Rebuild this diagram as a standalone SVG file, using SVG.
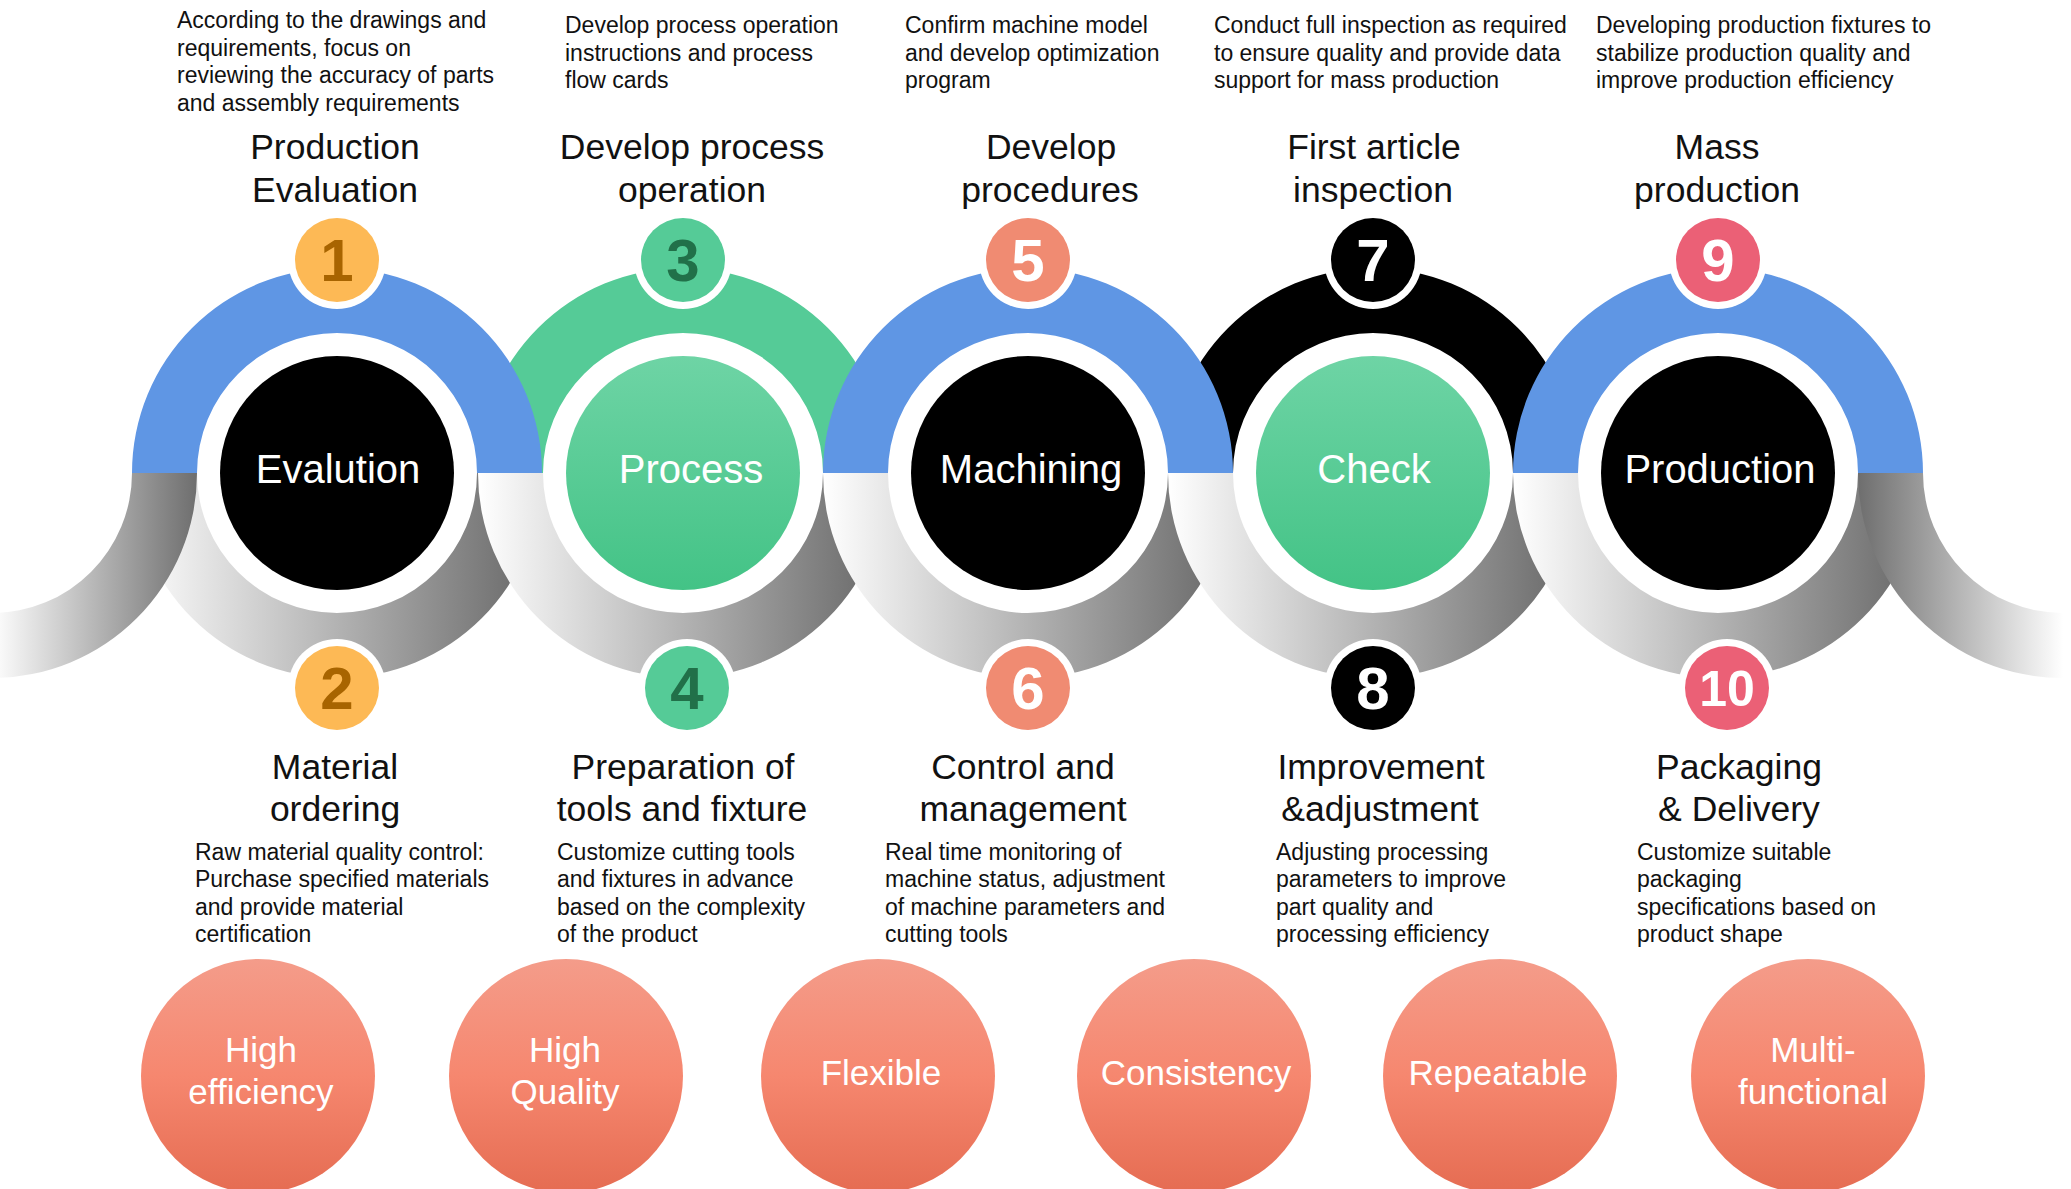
<svg xmlns="http://www.w3.org/2000/svg" width="2071" height="1189" viewBox="0 0 2071 1189">
<defs>
<linearGradient id="gGray" x1="0" y1="0" x2="1" y2="0"><stop offset="0" stop-color="#ffffff"/><stop offset="1" stop-color="#666666"/></linearGradient>
<linearGradient id="gGhostL" x1="0" y1="0" x2="1" y2="0"><stop offset="0" stop-color="#ffffff"/><stop offset="1" stop-color="#6e6e6e"/></linearGradient>
<linearGradient id="gGhostR" x1="0" y1="0" x2="1" y2="0"><stop offset="0" stop-color="#6e6e6e"/><stop offset="1" stop-color="#ffffff"/></linearGradient>
<linearGradient id="gGreen" x1="0" y1="0" x2="0" y2="1"><stop offset="0" stop-color="#6ED4A5"/><stop offset="1" stop-color="#43C386"/></linearGradient>
<linearGradient id="gSalmon" x1="0" y1="0" x2="0" y2="1"><stop offset="0" stop-color="#F49C8A"/><stop offset="0.5" stop-color="#F6876F"/><stop offset="1" stop-color="#E56C52"/></linearGradient>
<style>
text{font-family:'Liberation Sans',Arial,sans-serif;}
.desc{font-size:23px;fill:#111;}
.title{font-size:35.5px;fill:#111;text-anchor:middle;}
.lab{font-size:40px;fill:#fff;text-anchor:middle;}
.num{font-size:60px;font-weight:bold;text-anchor:middle;}
.feat{font-size:35px;fill:#fff;text-anchor:middle;}
.low{fill:url(#gGray);}
.blue{fill:#5F96E4;}
.green{fill:#55CB97;}
.blk{fill:#000;}
.wh{fill:#fff;}
</style>
</defs>
<rect width="2071" height="1189" fill="#fff"/>

<g id="connectors">
<!-- lower gray half rings, later on top -->
<path class="low" d="M132,473 A205,205 0 0 0 542,473 L477,473 A140,140 0 0 1 197,473 Z"/>
<path class="low" d="M478,473 A205,205 0 0 0 888,473 L823,473 A140,140 0 0 1 543,473 Z"/>
<path class="low" d="M823,473 A205,205 0 0 0 1233,473 L1168,473 A140,140 0 0 1 888,473 Z"/>
<path class="low" d="M1168,473 A205,205 0 0 0 1578,473 L1513,473 A140,140 0 0 1 1233,473 Z"/>
<path class="low" d="M1513,473 A205,205 0 0 0 1923,473 L1858,473 A140,140 0 0 1 1578,473 Z"/>
<path fill="url(#gGhostL)" d="M197,473 A205,205 0 0 1 -8,678 L-8,613 A140,140 0 0 0 132,473 Z"/>
<path fill="url(#gGhostR)" d="M1858,473 A205,205 0 0 0 2063,678 L2063,613 A140,140 0 0 1 1923,473 Z"/>
<!-- upper colored half rings -->
<path class="green" d="M478,473 A205,205 0 0 1 888,473 L823,473 A140,140 0 0 0 543,473 Z"/>
<path class="blk" d="M1168,473 A205,205 0 0 1 1578,473 L1513,473 A140,140 0 0 0 1233,473 Z"/>
<path class="blue" d="M132,473 A205,205 0 0 1 542,473 L477,473 A140,140 0 0 0 197,473 Z"/>
<path class="blue" d="M823,473 A205,205 0 0 1 1233,473 L1168,473 A140,140 0 0 0 888,473 Z"/>
<path class="blue" d="M1513,473 A205,205 0 0 1 1923,473 L1858,473 A140,140 0 0 0 1578,473 Z"/>
</g>

<g id="node-evaluation">
<circle cx="337" cy="473" r="117" fill="#000"/>
<text class="lab" x="338" y="483">Evalution</text>
<circle cx="337" cy="260" r="49" class="wh"/><circle cx="337" cy="260" r="42" fill="#FDB955"/>
<text class="num" x="337" y="281" fill="#A86400">1</text>
<circle cx="337" cy="688" r="49" class="wh"/><circle cx="337" cy="688" r="42" fill="#FDB955"/>
<text class="num" x="337" y="709" fill="#A86400">2</text>
<text class="title" x="335" y="159">Production</text><text class="title" x="335" y="202">Evaluation</text>
<text class="title" x="335" y="779">Material</text><text class="title" x="335" y="821">ordering</text>
<text class="desc" x="177" y="28">According to the drawings and</text>
<text class="desc" x="177" y="55.5">requirements, focus on</text>
<text class="desc" x="177" y="83">reviewing the accuracy of parts</text>
<text class="desc" x="177" y="110.5">and assembly requirements</text>
<text class="desc" x="195" y="860">Raw material quality control:</text>
<text class="desc" x="195" y="887">Purchase specified materials</text>
<text class="desc" x="195" y="914.5">and provide material</text>
<text class="desc" x="195" y="942">certification</text>
</g>

<g id="node-process">
<circle cx="683" cy="473" r="117" fill="url(#gGreen)"/>
<text class="lab" x="691" y="483">Process</text>
<circle cx="683" cy="260" r="49" class="wh"/><circle cx="683" cy="260" r="42" fill="#55CB97"/>
<text class="num" x="683" y="281" fill="#217049">3</text>
<circle cx="687" cy="688" r="49" class="wh"/><circle cx="687" cy="688" r="42" fill="#55CB97"/>
<text class="num" x="687" y="709" fill="#217049">4</text>
<text class="title" x="692" y="159">Develop process</text><text class="title" x="692" y="202">operation</text>
<text class="title" x="683" y="779">Preparation of</text><text class="title" x="682" y="821">tools and fixture</text>
<text class="desc" x="565" y="33">Develop process operation</text>
<text class="desc" x="565" y="60.5">instructions and process</text>
<text class="desc" x="565" y="88">flow cards</text>
<text class="desc" x="557" y="860">Customize cutting tools</text>
<text class="desc" x="557" y="887">and fixtures in advance</text>
<text class="desc" x="557" y="914.5">based on the complexity</text>
<text class="desc" x="557" y="942">of the product</text>
</g>

<g id="node-machining">
<circle cx="1028" cy="473" r="117" fill="#000"/>
<text class="lab" x="1031" y="483">Machining</text>
<circle cx="1028" cy="260" r="49" class="wh"/><circle cx="1028" cy="260" r="42" fill="#F08B72"/>
<text class="num" x="1028" y="281" fill="#fff">5</text>
<circle cx="1028" cy="688" r="49" class="wh"/><circle cx="1028" cy="688" r="42" fill="#F08B72"/>
<text class="num" x="1028" y="709" fill="#fff">6</text>
<text class="title" x="1051" y="159">Develop</text><text class="title" x="1050" y="202">procedures</text>
<text class="title" x="1023" y="779">Control and</text><text class="title" x="1023" y="821">management</text>
<text class="desc" x="905" y="33">Confirm machine model</text>
<text class="desc" x="905" y="60.5">and develop optimization</text>
<text class="desc" x="905" y="88">program</text>
<text class="desc" x="885" y="860">Real time monitoring of</text>
<text class="desc" x="885" y="887">machine status, adjustment</text>
<text class="desc" x="885" y="914.5">of machine parameters and</text>
<text class="desc" x="885" y="942">cutting tools</text>
</g>

<g id="node-check">
<circle cx="1373" cy="473" r="117" fill="url(#gGreen)"/>
<text class="lab" x="1374" y="483">Check</text>
<circle cx="1373" cy="260" r="49" class="wh"/><circle cx="1373" cy="260" r="42" fill="#000"/>
<text class="num" x="1373" y="281" fill="#fff">7</text>
<circle cx="1373" cy="688" r="49" class="wh"/><circle cx="1373" cy="688" r="42" fill="#000"/>
<text class="num" x="1373" y="709" fill="#fff">8</text>
<text class="title" x="1374" y="159">First article</text><text class="title" x="1373" y="202">inspection</text>
<text class="title" x="1381" y="779">Improvement</text><text class="title" x="1380" y="821">&amp;adjustment</text>
<text class="desc" x="1214" y="33">Conduct full inspection as required</text>
<text class="desc" x="1214" y="60.5">to ensure quality and provide data</text>
<text class="desc" x="1214" y="88">support for mass production</text>
<text class="desc" x="1276" y="860">Adjusting processing</text>
<text class="desc" x="1276" y="887">parameters to improve</text>
<text class="desc" x="1276" y="914.5">part quality and</text>
<text class="desc" x="1276" y="942">processing efficiency</text>
</g>

<g id="node-production">
<circle cx="1718" cy="473" r="117" fill="#000"/>
<text class="lab" x="1720" y="483">Production</text>
<circle cx="1718" cy="260" r="49" class="wh"/><circle cx="1718" cy="260" r="42" fill="#EB6076"/>
<text class="num" x="1718" y="281" fill="#fff">9</text>
<circle cx="1727" cy="688" r="49" class="wh"/><circle cx="1727" cy="688" r="42" fill="#EB6076"/>
<text class="num" x="1727" y="706" fill="#fff" style="font-size:50px">10</text>
<text class="title" x="1717" y="159">Mass</text><text class="title" x="1717" y="202">production</text>
<text class="title" x="1739" y="779">Packaging</text><text class="title" x="1739" y="821">&amp; Delivery</text>
<text class="desc" x="1596" y="33">Developing production fixtures to</text>
<text class="desc" x="1596" y="60.5">stabilize production quality and</text>
<text class="desc" x="1596" y="88">improve production efficiency</text>
<text class="desc" x="1637" y="860">Customize suitable</text>
<text class="desc" x="1637" y="887">packaging</text>
<text class="desc" x="1637" y="914.5">specifications based on</text>
<text class="desc" x="1637" y="942">product shape</text>
</g>

<g id="feature-high-efficiency"><circle cx="258" cy="1076" r="117" fill="url(#gSalmon)"/><text class="feat" x="261" y="1062">High</text><text class="feat" x="261" y="1104">efficiency</text></g>
<g id="feature-high-quality"><circle cx="566" cy="1076" r="117" fill="url(#gSalmon)"/><text class="feat" x="565" y="1062">High</text><text class="feat" x="565" y="1104">Quality</text></g>
<g id="feature-flexible"><circle cx="878" cy="1076" r="117" fill="url(#gSalmon)"/><text class="feat" x="881" y="1085">Flexible</text></g>
<g id="feature-consistency"><circle cx="1194" cy="1076" r="117" fill="url(#gSalmon)"/><text class="feat" x="1196" y="1085">Consistency</text></g>
<g id="feature-repeatable"><circle cx="1500" cy="1076" r="117" fill="url(#gSalmon)"/><text class="feat" x="1498" y="1085">Repeatable</text></g>
<g id="feature-multi-functional"><circle cx="1808" cy="1076" r="117" fill="url(#gSalmon)"/><text class="feat" x="1813" y="1062">Multi-</text><text class="feat" x="1813" y="1104">functional</text></g>
</svg>
